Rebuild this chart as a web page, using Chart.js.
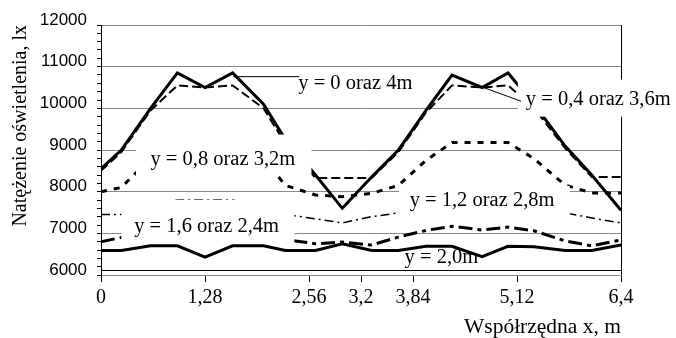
<!DOCTYPE html>
<html>
<head>
<meta charset="utf-8">
<script src="https://cdn.jsdelivr.net/npm/chart.js@4.4.1/dist/chart.umd.min.js"></script>
<style>
  html, body { margin: 0; padding: 0; background: #fff; }
</style>
</head>
<body>
<canvas id="chart1" width="676" height="338"></canvas>
<script>
// measuring points along the room, m
const xPos = [0, 0.25, 0.61, 0.94, 1.28, 1.62, 2.0, 2.27, 2.64, 2.97, 3.33, 3.66, 4.0, 4.32, 4.69, 5.01, 5.33, 5.71, 6.04, 6.4];
const xTicks = [0, 1.28, 2.56, 3.2, 3.84, 5.12, 6.4];

// illuminance (lx) along lines y = ...
const luxY0 = [8550, 9000, 10000, 10850, 10500, 10850, 10100, 9250, 8400, 7600, 8350, 9000, 9950, 10800, 10500, 10850, 10100, 9100, 8400, 7550];
const luxY04 = [8500, 8950, 9950, 10550, 10500, 10550, 10000, 9150, 8330, 8330, 8330, 8950, 9900, 10550, 10500, 10550, 10000, 9050, 8350, 8350];
const luxY08 = [8000, 8100, 8800, 9200, 9200, 9200, 8800, 8150, 7920, 7880, 7960, 8150, 8750, 9180, 9180, 9180, 8790, 8160, 7970, 7970];
const luxY12 = [7450, 7450, 7650, 7800, 7800, 7800, 7650, 7450, 7350, 7250, 7400, 7490, 7650, 7800, 7800, 7800, 7650, 7490, 7370, 7250];
const luxY16 = [6800, 6900, 7050, 7150, 7070, 7150, 7050, 6850, 6750, 6790, 6720, 6910, 7070, 7170, 7080, 7150, 7060, 6820, 6700, 6840];
const luxY20 = [6590, 6590, 6700, 6700, 6430, 6700, 6700, 6590, 6590, 6750, 6590, 6590, 6690, 6690, 6440, 6690, 6680, 6590, 6590, 6720];

const serif = 'Liberation Serif';
const sans = 'Liberation Sans';

function toPoints(values) {
  return values.map((v, i) => ({ x: xPos[i], y: v }));
}

function series(values, width, dash) {
  return {
    data: toPoints(values),
    borderColor: '#000',
    borderWidth: width,
    borderDash: dash,
    pointRadius: 0,
    fill: false,
    tension: 0
  };
}

// in-plot labels: anchor and white box in data units
const notes = [
  { text: 'y = 0 oraz 4m', x: 3.13, y: 10600, box: [2.42, 3.86, 10850, 10330], leader: [1.63, 10760, 2.44, 10760] },
  { text: 'y = 0,4 oraz 3,6m', x: 6.12, y: 10200, box: [5.13, 7.1, 10690, 9800], leader: [4.68, 10520, 5.17, 10170] },
  { text: 'y = 0,8 oraz 3,2m', x: 1.5, y: 8770, box: [0.43, 2.59, 9370, 8400] },
  { text: 'y = 1,6 oraz 2,4m', x: 1.3, y: 7156, box: [0.25, 2.38, 7805, 6772] },
  { text: 'y = 1,2 oraz 2,8m', x: 4.69, y: 7780, box: [3.67, 5.77, 8140, 7440] },
  { text: 'y = 2,0m', x: 4.19, y: 6410, box: null }
];

const notesPlugin = {
  id: 'notes',
  afterDatasetsDraw(chart) {
    const { ctx, chartArea, scales: { x, y } } = chart;
    ctx.save();
    // frame: right edge and the axis line just above the 6000 gridline
    ctx.strokeStyle = '#000';
    ctx.lineWidth = 1;
    ctx.beginPath();
    ctx.moveTo(chartArea.right + 0.5, chartArea.top);
    ctx.lineTo(chartArea.right + 0.5, chartArea.bottom);
    const axisY = Math.round(y.getPixelForValue(6130)) + 0.5;
    ctx.moveTo(chartArea.left, axisY);
    ctx.lineTo(chartArea.right, axisY);
    ctx.stroke();

    ctx.fillStyle = '#fff';
    for (const n of notes) {
      if (!n.box) continue;
      const [x1, x2, y1, y2] = n.box;
      const px1 = x.getPixelForValue(x1), px2 = x.getPixelForValue(x2);
      const py1 = y.getPixelForValue(y1), py2 = y.getPixelForValue(y2);
      ctx.fillRect(px1, py1, px2 - px1, py2 - py1);
    }
    ctx.strokeStyle = '#000';
    ctx.lineWidth = 1;
    for (const n of notes) {
      if (!n.leader) continue;
      const [ax, ay, bx, by] = n.leader;
      ctx.beginPath();
      ctx.moveTo(x.getPixelForValue(ax), y.getPixelForValue(ay));
      ctx.lineTo(x.getPixelForValue(bx), y.getPixelForValue(by));
      ctx.stroke();
    }
    ctx.fillStyle = '#000';
    ctx.font = '20.5px "' + serif + '"';
    ctx.textAlign = 'center';
    ctx.textBaseline = 'middle';
    for (const n of notes) {
      ctx.fillText(n.text, x.getPixelForValue(n.x), y.getPixelForValue(n.y));
    }
    ctx.restore();
  }
};

new Chart(document.getElementById('chart1'), {
  type: 'line',
  data: {
    datasets: [
      series(luxY0, 3, []),
      series(luxY04, 2, [9, 4]),
      series(luxY08, 3, [6, 7]),
      series(luxY12, 1.5, [9, 4, 2, 4]),
      series(luxY16, 3, [14, 5, 4, 5]),
      series(luxY20, 3, [])
    ]
  },
  options: {
    responsive: false,
    animation: false,
    layout: { padding: { top: 25, right: 55, left: 0, bottom: 0 } },
    plugins: {
      legend: { display: false },
      tooltip: { enabled: false }
    },
    scales: {
      x: {
        type: 'linear',
        min: 0,
        max: 6.4,
        afterBuildTicks: (scale) => { scale.ticks = xTicks.map(v => ({ value: v })); },
        afterFit: (scale) => { scale.height = 63; },
        ticks: {
          autoSkip: false,
          maxRotation: 0,
          color: '#000',
          padding: 4,
          font: { family: serif, size: 20 },
          callback: (v) => String(v).replace('.', ',')
        },
        grid: { drawOnChartArea: false, tickLength: 7, tickColor: '#000' },
        border: { color: '#888' },
        title: {
          display: true,
          text: 'Współrzędna x, m',
          align: 'end',
          color: '#000',
          padding: 0,
          font: { family: serif, size: 21.5, lineHeight: 1 }
        }
      },
      y: {
        min: 6000,
        max: 12000,
        afterFit: (scale) => { scale.width = 101; },
        ticks: {
          stepSize: 200,
          autoSkip: false,
          color: '#000',
          padding: 10,
          labelOffset: -5,
          font: { family: sans, size: 17 },
          callback: (v) => (v % 1000 === 0 ? String(v) : '')
        },
        grid: {
          color: (c) => (c.tick && c.tick.value % 1000 === 0 ? '#888' : 'rgba(0,0,0,0)'),
          tickColor: '#000',
          tickLength: 4
        },
        border: { color: '#000' },
        title: {
          display: true,
          text: 'Natężenie oświetlenia, lx',
          align: 'end',
          color: '#000',
          padding: { top: 9, bottom: 0 },
          font: { family: serif, size: 20 }
        }
      }
    }
  },
  plugins: [notesPlugin]
});
</script>
</body>
</html>
